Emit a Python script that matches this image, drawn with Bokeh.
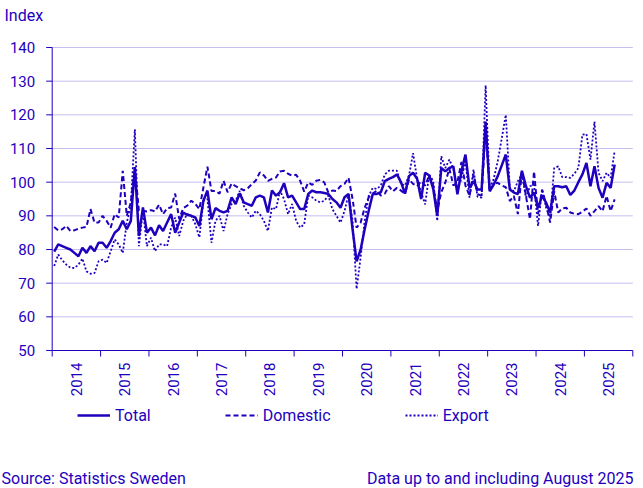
import math
import pandas as pd
from bokeh.plotting import figure
from bokeh.models import Legend, LegendItem, ColumnDataSource, Label, Range1d
from bokeh.core.properties import value
from bokeh.embed import file_html
from bokeh.resources import INLINE

# ---- data (monthly index, Jan 2014 - Aug 2025) ----
months = pd.period_range("2014-01", "2025-08", freq="M")

total = [
    79.4, 81.5, 81, 80.5, 80, 79, 78, 80.5, 79, 81, 79.5, 82,
    82, 80.5, 82.5, 85, 86, 88.5, 86, 88.5, 104.5, 84, 92.5, 85,
    86.5, 84.2, 87.2, 85.5, 88, 90.5, 85, 88, 91, 90.3, 90, 89.5,
    87, 94.5, 97.5, 89, 92.3, 91.5, 91, 91.5, 95.5, 93.5, 96.7, 94,
    93.5, 93, 95.5, 96, 95.5, 91, 97.5, 96, 97, 99.7, 95.5, 96,
    94, 92, 92, 96.5, 97.5, 97, 97, 96.8, 96.5, 95, 94, 92.4,
    95.5, 96.5, 86, 76.5, 80, 86, 91.5, 96.5, 96.5, 97, 100.3, 101,
    101.5, 102.3, 100, 96.6, 101.8, 102.8, 101, 95, 102.8, 102, 98, 90,
    104.2, 103.2, 104.2, 104.7, 96.4, 103.2, 108.2, 98.3, 100.3, 97.8, 97.8, 118,
    97.3, 99.3, 101.8, 105, 108.2, 97.8, 96.9, 96.5, 103.4, 98.8, 95.4, 96.9,
    92.4, 95.9, 93.9, 91, 98.8, 98.8, 98.5, 98.8, 96.2, 97.5, 100, 102.3,
    105.7, 98.8, 104.7, 98.3, 95.4, 99.8, 98.3, 105.2,
]

domestic = [
    86.7, 85.7, 86, 87, 85.5, 85.7, 86.2, 86.5, 86.7, 92, 88, 88,
    90, 88.5, 86.5, 90.5, 89.5, 103.4, 90, 94, 104.4, 91.5, 91.5, 91.3,
    91.7, 91.3, 93.3, 90.5, 92.3, 92.5, 96.6, 89, 92.3, 93, 94.5, 93.5,
    92, 98.4, 104.6, 97.4, 97.4, 96.6, 100.4, 97, 99.6, 98.8, 98.2, 97.6,
    98.2, 99.4, 100.5, 102.9, 102, 100.4, 101, 101.4, 103.2, 103.4, 102.5, 101.9,
    102.2, 100.4, 97.2, 99.9, 99.2, 100.4, 100.7, 99.9, 96.9, 97.5, 97.4, 98.8,
    99.5, 101.3, 95, 86.5, 88, 92.4, 95.5, 96.6, 97.5, 96, 96.6, 98.8,
    97.3, 98.3, 97.5, 96.6, 100.8, 99.5, 98.8, 100.3, 99, 102, 99, 91.4,
    97, 99.9, 104, 99, 100, 106, 99, 96, 102.3, 96.4, 96, 116,
    97.5, 99.5, 99.8, 99, 98.5, 94.4, 95.9, 90.5, 103.2, 95.9, 89, 103.2,
    90.5, 97.8, 93.4, 88, 97.3, 91, 92.2, 92.4, 91, 90.6, 90.5, 91.2,
    92.2, 90, 91.4, 92.9, 91.4, 95.9, 91.4, 94.9,
]

export = [
    75.1, 78.5, 76.8, 75.5, 74.6, 74.5, 75.5, 77.3, 73.5, 72.8, 73, 76.5,
    77, 76, 79.5, 83, 81.5, 79, 88, 93, 115.7, 81, 91.5, 81,
    83.5, 79.5, 81.5, 81.5, 81, 86.5, 89.5, 84, 88.5, 90.5, 90, 87.5,
    83.6, 94.5, 95, 82, 88.5, 90, 85.5, 90.5, 93.5, 94.5, 97.4, 93,
    91, 89.5, 91.5, 90.5, 88.5, 85.5, 92.5, 92, 97.4, 95, 90.5, 93.5,
    88.5, 86.5, 87.5, 96, 95.5, 94.5, 94, 94.5, 96, 92, 90, 88,
    91.4, 96.4, 88.5, 68.3, 77.7, 88.5, 95.9, 98.3, 98, 99, 102.3, 103.4,
    103.4, 103.4, 99.5, 99, 102, 108.6, 101, 97, 93.4, 102.3, 100.3, 88.5,
    107.7, 104.2, 106.7, 104, 98, 101, 106.2, 95.4, 103.7, 95.6, 95.4, 128.8,
    97.8, 101, 106.2, 113, 120, 98.3, 97.3, 100.3, 102.3, 95.4, 98.8, 99.3,
    87, 97.8, 92.4, 89.5, 104.2, 104.7, 101.5, 101.5, 101.3, 102.5, 104.2, 114.1,
    114.3, 106.7, 118, 102.8, 100.3, 102.8, 101.3, 109.3,
]

year_labels = [str(y) for y in range(2014, 2026)]
y_ticks = [50, 60, 70, 80, 90, 100, 110, 120, 130, 140]

# ---- layout constants (pixels) ----
W, H = 643, 488
PLOT_L, PLOT_R = 51.7, 632.3      # pixel x of the plot area edges
PLOT_T, PLOT_B = 47.0, 350.0      # pixel y of the plot area edges
X0, X1 = 2014, 2026               # x domain (years)
Y0, Y1 = 50, 140                  # y domain (index)
kx = (PLOT_R - PLOT_L) / (X1 - X0)   # px per year
ky = (PLOT_B - PLOT_T) / (Y1 - Y0)   # px per index point

BLUE = "#1e00be"
GRID = "#c3bff0"
FONT = "Roboto"

# month centre positions in fractional years
xpos = [m.year + (m.month - 0.5) / 12 for m in months]
src = ColumnDataSource(dict(x=xpos, total=total, domestic=domestic, export=export))

# the drawing area covers the whole canvas; the axes are drawn with its scales
x_range = Range1d(X0 - PLOT_L / kx, X0 + (W - PLOT_L) / kx)
y_range = Range1d(Y0 - (H - PLOT_B) / ky, Y1 + PLOT_T / ky)

p = figure(width=W, height=H, output_backend="svg", toolbar_location=None,
           x_range=x_range, y_range=y_range,
           x_axis_location=None, y_axis_location=None,
           min_border=0, min_border_left=0, min_border_right=0,
           min_border_top=0, min_border_bottom=0)
p.grid.visible = False
p.outline_line_color = None
p.background_fill_color = "white"
p.border_fill_color = "white"

# horizontal grid lines
grid_src = ColumnDataSource(dict(y=y_ticks[1:], x0=[X0] * 9, x1=[X1] * 9))
p.segment(x0="x0", x1="x1", y0="y", y1="y", source=grid_src, line_color=GRID, line_width=1)

# data lines
r_tot = p.line("x", "total", source=src, line_color=BLUE, line_width=2.5)
r_dom = p.line("x", "domestic", source=src, line_color=BLUE, line_width=2, line_dash="5 3")
r_exp = p.line("x", "export", source=src, line_color=BLUE, line_width=1.8, line_dash="2 2")

# y axis: line, ticks (6px outward), labels
tick_px, ylab_gap = 6, 11
p.segment(x0=[X0], x1=[X0], y0=[Y0], y1=[Y1], line_color=BLUE, line_width=1)
yt_src = ColumnDataSource(dict(y=y_ticks, x0=[X0 - tick_px / kx] * len(y_ticks), x1=[X0] * len(y_ticks),
                               xl=[X0 - (tick_px + ylab_gap) / kx] * len(y_ticks),
                               lab=[str(v) for v in y_ticks]))
p.segment(x0="x0", x1="x1", y0="y", y1="y", source=yt_src, line_color=BLUE, line_width=1)
p.text(x="xl", y="y", text="lab", source=yt_src, text_font=value(FONT), text_font_size="15px",
       text_color=BLUE, text_align="right", text_baseline="middle")

# x axis: line, year-boundary ticks, centred vertical year labels
p.segment(x0=[X0], x1=[X1], y0=[Y0], y1=[Y0], line_color=BLUE, line_width=1)
bounds = list(range(X0, X1 + 1))
xt_src = ColumnDataSource(dict(x=bounds, y0=[Y0] * len(bounds), y1=[Y0 - tick_px / ky] * len(bounds)))
p.segment(x0="x", x1="x", y0="y0", y1="y1", source=xt_src, line_color=BLUE, line_width=1)
xl_src = ColumnDataSource(dict(x=[int(y) + 0.5 for y in year_labels],
                               y=[Y0 - 12 / ky] * len(year_labels), lab=year_labels))
p.text(x="x", y="y", text="lab", source=xl_src, angle=math.pi / 2, text_font=value(FONT),
       text_font_size="15px", text_color=BLUE, text_align="right", text_baseline="middle")

# legend below the axis
legend = Legend(items=[LegendItem(label="Total", renderers=[r_tot]),
                       LegendItem(label="Domestic", renderers=[r_dom]),
                       LegendItem(label="Export", renderers=[r_exp])],
                orientation="horizontal", location=(77, H - 425),
                border_line_color=None, background_fill_alpha=0,
                padding=0, margin=0, spacing=74, label_standoff=5,
                glyph_width=33, glyph_height=20, label_height=20,
                label_text_font=FONT, label_text_font_size="16px",
                label_text_color=BLUE)
p.add_layout(legend)

# texts
p.add_layout(Label(x=4, y=H - 15, x_units="screen", y_units="screen", text="Index",
                   text_font=FONT, text_font_size="16px", text_color=BLUE,
                   text_baseline="alphabetic"))
p.add_layout(Label(x=1, y=H - 478, x_units="screen", y_units="screen",
                   text="Source: Statistics Sweden",
                   text_font=FONT, text_font_size="16px", text_color=BLUE,
                   text_baseline="alphabetic"))
p.add_layout(Label(x=633, y=H - 478, x_units="screen", y_units="screen",
                   text="Data up to and including August 2025", text_align="right",
                   text_font=FONT, text_font_size="16px", text_color=BLUE,
                   text_baseline="alphabetic"))

open("out.html", "w").write(file_html(p, INLINE))
